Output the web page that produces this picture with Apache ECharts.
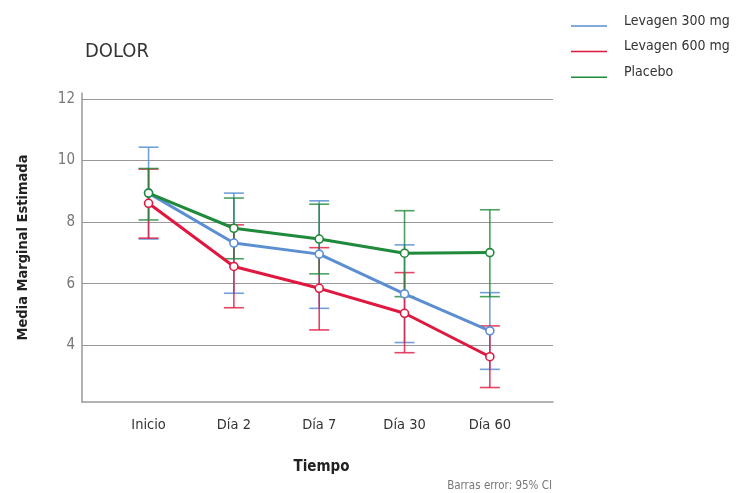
<!DOCTYPE html>
<html>
<head>
<meta charset="utf-8">
<script src="https://cdn.jsdelivr.net/npm/echarts@6/dist/echarts.min.js"></script>
<style>
html,body{margin:0;padding:0;background:#fff;}
#c{width:743px;height:493px;}
</style>
</head>
<body>
<div id="c"></div>
<script>
var FONT = "'Liberation Sans Narrow','DejaVu Sans Condensed','Roboto',sans-serif";
var categories = ['Inicio', 'Día 2', 'Día 7', 'Día 30', 'Día 60'];
var seriesNames = ['Levagen 300 mg', 'Levagen 600 mg', 'Placebo'];
var yTicks = [4, 6, 8, 10, 12];

var mean300 = [8.94, 7.32, 6.96, 5.67, 4.47];
var lower300 = [7.45, 5.69, 5.20, 4.09, 3.22];
var upper300 = [10.43, 8.94, 8.69, 7.26, 5.71];

var mean600 = [8.61, 6.56, 5.85, 5.04, 3.63];
var lower600 = [7.48, 5.22, 4.50, 3.76, 2.63];
var upper600 = [9.72, 7.91, 7.17, 6.36, 4.63];

var meanPlacebo = [8.94, 7.80, 7.45, 6.99, 7.01];
var lowerPlacebo = [8.07, 6.81, 6.32, 5.58, 5.58];
var upperPlacebo = [9.74, 8.78, 8.58, 8.37, 8.40];

var colors = ['#5b8fd2', '#e0173f', '#1f8a3b'];
var barColors = ['rgba(91,143,210,0.85)', 'rgba(224,23,63,0.8)', 'rgba(31,138,59,0.8)'];

var means = [mean300, mean600, meanPlacebo];
var lowers = [lower300, lower600, lowerPlacebo];
var uppers = [upper300, upper600, upperPlacebo];

function pts(arr) { return arr.map(function (v, i) { return [i + 1, v]; }); }
function bars(lo, hi) { return lo.map(function (v, i) { return [i + 1, v, hi[i]]; }); }

var series = [];
for (var s = 0; s < 3; s++) {
  (function (s) {
    series.push({
      type: 'custom',
      name: seriesNames[s],
      z: 1,
      silent: true,
      renderItem: function (params, api) {
        var x = api.value(0);
        var lo = api.coord([x, api.value(1)]);
        var hi = api.coord([x, api.value(2)]);
        var hw = 10;
        var st = { stroke: barColors[s], lineWidth: 1.6 };
        return {
          type: 'group',
          children: [
            { type: 'line', shape: { x1: lo[0], y1: lo[1], x2: hi[0], y2: hi[1] }, style: st },
            { type: 'line', shape: { x1: lo[0] - hw, y1: lo[1], x2: lo[0] + hw, y2: lo[1] }, style: st },
            { type: 'line', shape: { x1: hi[0] - hw, y1: hi[1], x2: hi[0] + hw, y2: hi[1] }, style: st }
          ]
        };
      },
      data: bars(lowers[s], uppers[s])
    });
  })(s);
}
for (var s2 = 0; s2 < 3; s2++) {
  series.push({
    type: 'line',
    name: seriesNames[s2],
    z: 3 + s2,
    data: pts(means[s2]),
    symbol: 'circle',
    symbolSize: 8,
    showSymbol: true,
    lineStyle: { color: colors[s2], width: 3 },
    itemStyle: { color: '#fff', borderColor: colors[s2], borderWidth: 1.6 },
    emphasis: { disabled: true }
  });
}

var chart = echarts.init(document.getElementById('c'), null, { renderer: 'canvas' });
chart.setOption({
  animation: false,
  backgroundColor: '#fff',
  textStyle: { fontFamily: FONT },
  title: [
    { text: 'DOLOR', left: 80, top: 37, textStyle: { fontFamily: FONT, fontSize: 20, fontWeight: 'normal', color: '#333' } },
    { text: 'Barras error: 95% CI', right: 186, top: 475, textStyle: { fontFamily: FONT, fontSize: 11.5, fontWeight: 'normal', color: '#777' } }
  ],
  legend: {
    orient: 'vertical',
    left: 566,
    top: 9,
    itemGap: 11.6,
    itemWidth: 36,
    itemHeight: 12,
    icon: 'path://M0,0L36,0L36,0.001Z M0,10L36,10L36,11.5L0,11.5Z',
    data: seriesNames.map(function (n, i) { return { name: n, itemStyle: { color: colors[i] } }; }),
    textStyle: { fontFamily: FONT, fontSize: 14, color: '#333', padding: [0, 0, 0, 12] }
  },
  grid: { left: 82, right: 190, top: 93, bottom: 91, containLabel: false },
  xAxis: {
    type: 'value',
    min: 0.22,
    max: 5.74,
    name: 'Tiempo',
    nameLocation: 'middle',
    nameGap: 58,
    nameTextStyle: { fontFamily: FONT, fontSize: 15, fontWeight: 'bold', color: '#222', padding: [0, 0, 0, 8] },
    axisLine: { show: true, lineStyle: { color: '#999', width: 1.5 } },
    axisTick: { show: false, customValues: [1, 2, 3, 4, 5] },
    splitLine: { show: false },
    axisLabel: {
      customValues: [1, 2, 3, 4, 5],
      formatter: function (v) { return categories[Math.round(v) - 1]; },
      fontFamily: FONT, fontSize: 14.5, color: '#333', margin: 16
    }
  },
  yAxis: {
    type: 'value',
    min: 2.16,
    max: 12.19,
    name: 'Media Marginal Estimada',
    nameLocation: 'middle',
    nameRotate: 90,
    nameGap: 51,
    nameTextStyle: { fontFamily: FONT, fontSize: 14.5, fontWeight: 'bold', color: '#222' },
    axisLine: { show: true, lineStyle: { color: '#999', width: 1.5 } },
    axisTick: { show: false, customValues: yTicks },
    splitLine: { show: true, lineStyle: { color: '#999', width: 1 } },
    axisLabel: {
      customValues: yTicks,
      fontFamily: FONT, fontSize: 15, color: '#777', margin: 7,
      padding: [0, 0, 10, 0]
    }
  },
  series: series
});
</script>
</body>
</html>
